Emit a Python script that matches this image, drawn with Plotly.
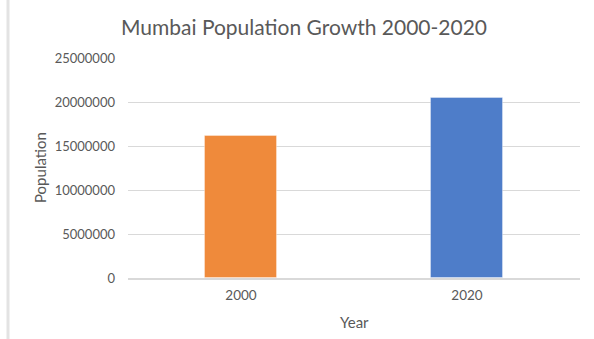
import plotly.graph_objects as go

years = ["2000", "2020"]
population = [16100000, 20400000]
bar_colors = ["#EF8A3B", "#4E7DC9"]
y_ticks = [0, 5000000, 10000000, 15000000, 20000000, 25000000]

title_text = "Mumbai Population Growth 2000-2020"
x_title = "Year"
y_title = "Population"

FONT = "Lato"
GREY = "#595959"

fig = go.Figure()
fig.add_trace(go.Bar(
    x=years, y=population,
    marker=dict(color=bar_colors, line=dict(color="rgba(255,255,255,0.35)", width=1)),
    width=0.315,
))

W, H = 594, 339
L, R, T, B = 128, 14, 58, 61

fig.update_layout(
    width=W, height=H,
    margin=dict(l=L, r=R, t=T, b=B, autoexpand=False),
    paper_bgcolor="white", plot_bgcolor="white",
    font=dict(family=FONT, color=GREY, size=13),
    showlegend=False,
    title=dict(text=title_text, x=304 / W, xanchor="center", y=1 - 28 / H, yanchor="middle",
               xref="container", yref="container",
               font=dict(family=FONT, size=21, color=GREY)),
    xaxis=dict(
        type="category", showgrid=False, showline=True, linecolor="#D9D9D9", linewidth=1.5,
        ticks="", ticklabelstandoff=4, tickfont=dict(size=13.5, color=GREY),
        fixedrange=True,
    ),
    yaxis=dict(
        range=[0, 25000000], tickvals=y_ticks, ticktext=[str(v) for v in y_ticks],
        showgrid=True, gridcolor="#D9D9D9", gridwidth=1.2, zeroline=False, showline=False,
        ticks="", ticklabelstandoff=12, tickfont=dict(size=13, color=GREY),
        fixedrange=True,
    ),
    bargap=0,
)

pw = W - L - R
ph = H - T - B
fig.add_annotation(text=x_title, xref="paper", yref="paper", x=0.5, y=-(322 - (H - B)) / ph,
                   xanchor="center", yanchor="middle", showarrow=False,
                   font=dict(family=FONT, size=15, color=GREY))
fig.add_annotation(text=y_title, xref="paper", yref="paper", x=-(L - 40) / pw, y=(H - B - 168) / ph,
                   xanchor="center", yanchor="middle", textangle=-90, showarrow=False,
                   font=dict(family=FONT, size=15, color=GREY))

# light frame edge at the left of the chart area
fig.add_shape(type="line", xref="paper", yref="paper",
              x0=-(L - 8) / pw, x1=-(L - 8) / pw, y0=-(B) / ph, y1=1 + T / ph,
              line=dict(color="#E3E3E3", width=3))

fig.write_html("out.html")
